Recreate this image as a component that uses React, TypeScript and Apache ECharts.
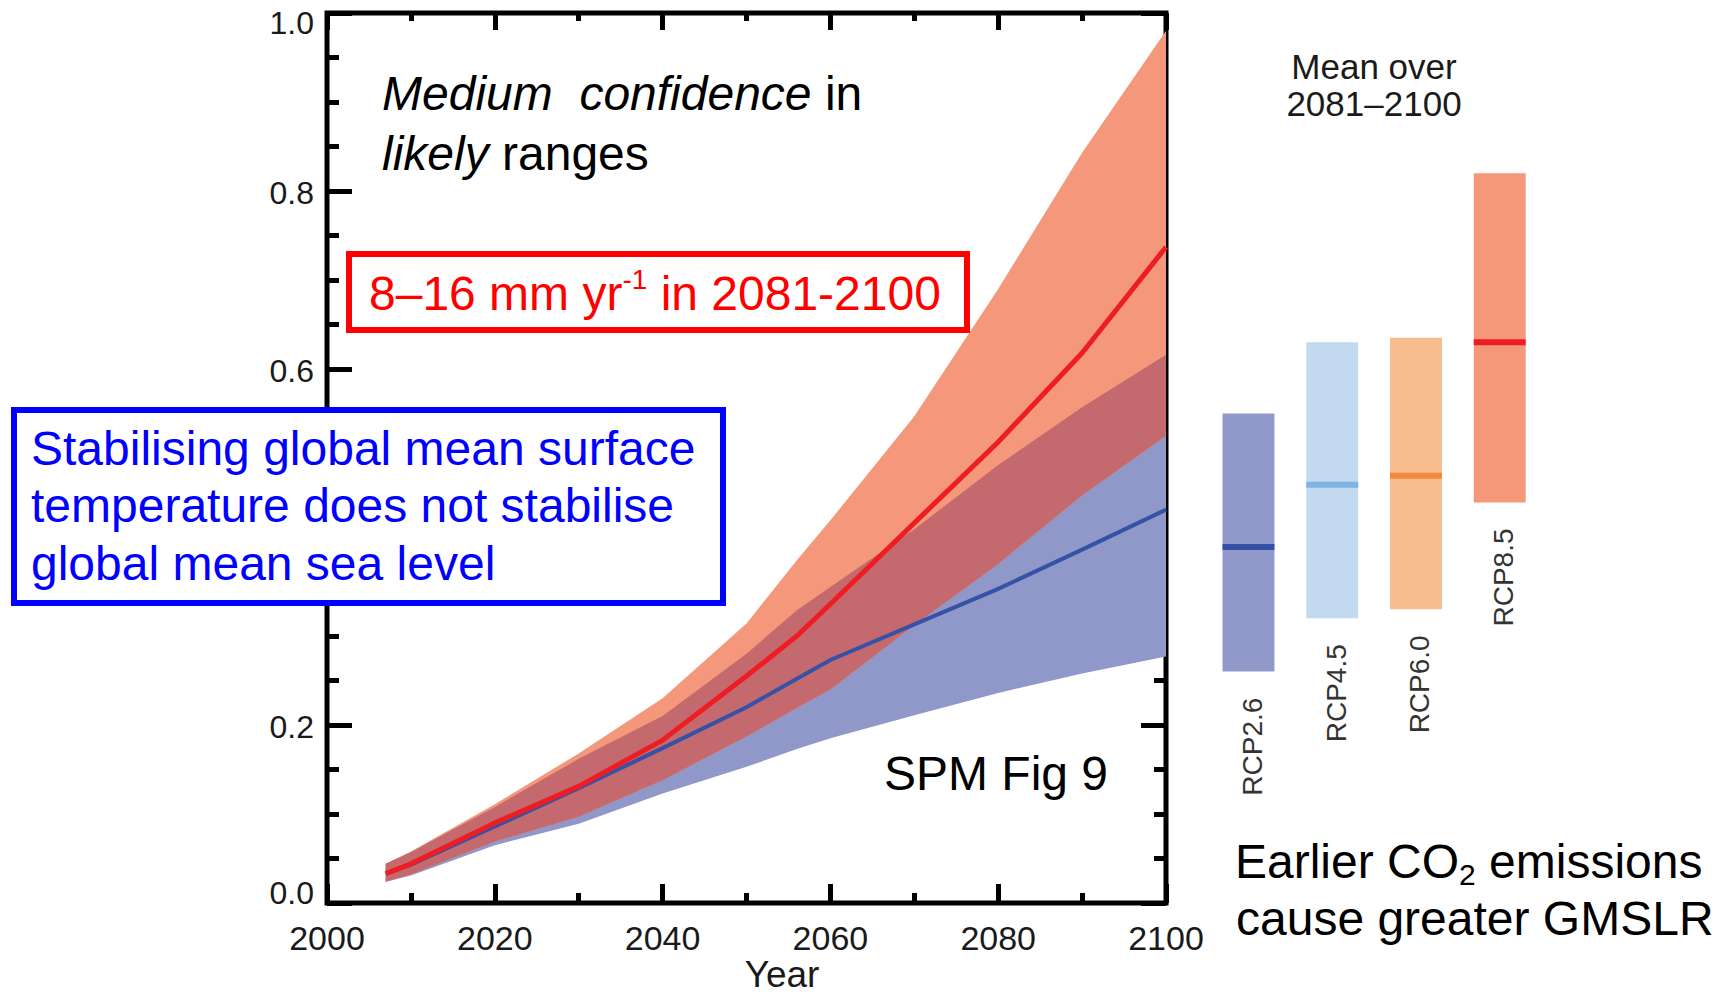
import React, { useEffect, useRef } from "react";
import * as echarts from "echarts";

// ---- Data ----
const YEARS = [2007, 2010, 2020, 2030, 2040, 2050, 2056, 2060, 2070, 2080, 2090, 2100];
const RCP26_LOW = [0.024, 0.031, 0.065, 0.089, 0.123, 0.153, 0.173, 0.185, 0.211, 0.236, 0.258, 0.277];
const RCP26_MED = [0.033, 0.043, 0.086, 0.129, 0.174, 0.220, 0.252, 0.273, 0.313, 0.353, 0.397, 0.442];
const RCP26_HIGH = [0.044, 0.057, 0.108, 0.162, 0.210, 0.280, 0.329, 0.355, 0.420, 0.492, 0.557, 0.616];
const RCP85_LOW = [0.024, 0.032, 0.069, 0.097, 0.138, 0.187, 0.219, 0.240, 0.312, 0.381, 0.458, 0.525];
const RCP85_MED = [0.033, 0.044, 0.090, 0.131, 0.183, 0.255, 0.300, 0.336, 0.427, 0.518, 0.618, 0.737];
const RCP85_HIGH = [0.044, 0.058, 0.111, 0.168, 0.230, 0.314, 0.385, 0.430, 0.547, 0.690, 0.843, 0.980];

const SCENARIOS = ["RCP2.6", "RCP4.5", "RCP6.0", "RCP8.5"];
const MEAN_LOW = [0.26, 0.32, 0.33, 0.45];
const MEAN_MED = [0.40, 0.47, 0.48, 0.63];
const MEAN_HIGH = [0.55, 0.63, 0.635, 0.82];

// tick label hidden behind the blue annotation box in the reference
const HIDDEN_Y_LABELS = [0.4];

// ---- Styles ----
const FONT = "'Liberation Sans', Arial, Helvetica, sans-serif";
const BAR_COLORS = ["#9199CB", "#C3D9F0", "#F9BC8D", "#F59879"];
const MED_COLORS = ["#3350A5", "#7DB5E4", "#F58A3C", "#ED1C24"];
const C_ORANGE = "#F5977A";
const C_BLUE = "#9097C9";
const C_ROSE = "#C46A6E";

export default function App() {
  const ref = useRef<HTMLDivElement>(null);

  useEffect(() => {
    document.body.style.margin = "0";
    document.body.style.overflow = "hidden";
    if (!ref.current) return;
    const chart = echarts.init(ref.current, undefined, { renderer: "svg" });

    const overlapLow = RCP26_LOW.map((v, i) => Math.max(v, RCP85_LOW[i]));
    const overlapHigh = RCP26_HIGH.map((v, i) => Math.min(v, RCP85_HIGH[i]));
    const BANDS = [
      { low: RCP26_LOW, high: RCP26_HIGH, color: C_BLUE },
      { low: RCP85_LOW, high: RCP85_HIGH, color: C_ORANGE },
      { low: overlapLow, high: overlapHigh, color: C_ROSE },
    ];

    const tickStyle = { color: "#000", width: 5 };
    const labelStyle = { fontSize: 34, color: "#1a1a1a", fontFamily: FONT };
    const yLab = { fontSize: 32, color: "#1a1a1a", fontFamily: FONT };

    const option: any = {
      animation: false,
      backgroundColor: "#ffffff",
      grid: [
        {
          left: 327,
          top: 13,
          width: 839,
          height: 890,
          show: true,
          borderColor: "#000",
          borderWidth: 5,
          backgroundColor: "transparent",
        },
        { left: 1206.6, top: 13, width: 335, height: 890 },
      ],
      xAxis: [
        {
          gridIndex: 0,
          type: "value",
          min: 2000,
          max: 2100,
          interval: 20,
          position: "bottom",
          axisLine: { show: false, onZero: false },
          axisTick: { show: true, inside: true, length: 19, lineStyle: tickStyle },
          minorTick: { show: true, splitNumber: 2, length: 10, lineStyle: tickStyle },
          splitLine: { show: false },
          minorSplitLine: { show: false },
          axisLabel: { ...labelStyle, margin: 18, formatter: (v: number) => String(v) },
        },
        {
          gridIndex: 0,
          type: "value",
          min: 2000,
          max: 2100,
          interval: 20,
          position: "top",
          axisLine: { show: false, onZero: false },
          axisTick: { show: true, inside: true, length: 17, lineStyle: tickStyle },
          minorTick: { show: true, splitNumber: 2, length: 8, lineStyle: tickStyle },
          splitLine: { show: false },
          minorSplitLine: { show: false },
          axisLabel: { show: false },
        },
        { gridIndex: 1, type: "category", data: SCENARIOS, show: false },
      ],
      yAxis: [
        {
          gridIndex: 0,
          type: "value",
          min: 0,
          max: 1,
          interval: 0.2,
          position: "left",
          axisLine: { show: false, onZero: false },
          axisTick: { show: true, inside: true, length: 25, lineStyle: tickStyle },
          minorTick: { show: true, splitNumber: 4, length: 12, lineStyle: tickStyle },
          splitLine: { show: false },
          minorSplitLine: { show: false },
          axisLabel: {
            ...yLab,
            margin: 13,
            formatter: (v: number) => {
              if (HIDDEN_Y_LABELS.some((h) => Math.abs(h - v) < 1e-6)) return "";
              const s = v.toFixed(1);
              if (v >= 1 - 1e-9) return "{mx|" + s + "}";
              if (v <= 1e-9) return "{mn|" + s + "}";
              return "{n|" + s + "}";
            },
            rich: {
              n: { ...yLab, padding: [4, 0, 0, 0] },
              mx: { ...yLab, padding: [20, 0, 0, 0] },
              mn: { ...yLab, padding: [0, 0, 20, 0] },
            },
          },
        },
        {
          gridIndex: 0,
          type: "value",
          min: 0,
          max: 1,
          interval: 0.2,
          position: "right",
          axisLine: { show: false, onZero: false },
          axisTick: { show: true, inside: true, length: 25, lineStyle: tickStyle },
          minorTick: { show: true, splitNumber: 4, length: 12, lineStyle: tickStyle },
          splitLine: { show: false },
          minorSplitLine: { show: false },
          axisLabel: { show: false },
        },
        { gridIndex: 1, type: "value", min: 0, max: 1, show: false },
      ],
      series: [
        {
          type: "custom",
          xAxisIndex: 0,
          yAxisIndex: 0,
          silent: true,
          z: 2,
          data: BANDS.map(() => [YEARS[0], 0]),
          renderItem: (params: any, api: any) => {
            const b = BANDS[params.dataIndex];
            const upper = YEARS.map((y, k) => api.coord([y, b.high[k]]));
            const lower = YEARS.map((y, k) => api.coord([y, b.low[k]])).reverse();
            return {
              type: "polygon",
              shape: { points: upper.concat(lower) },
              style: { fill: b.color, stroke: null },
            };
          },
        },
        {
          type: "line",
          name: "RCP2.6",
          xAxisIndex: 0,
          yAxisIndex: 0,
          data: YEARS.map((y, i) => [y, RCP26_MED[i]]),
          symbol: "none",
          smooth: false,
          lineStyle: { color: "#3552A6", width: 4 },
          z: 5,
        },
        {
          type: "line",
          name: "RCP8.5",
          xAxisIndex: 0,
          yAxisIndex: 0,
          data: YEARS.map((y, i) => [y, RCP85_MED[i]]),
          symbol: "none",
          smooth: false,
          lineStyle: { color: "#EE1D23", width: 5 },
          z: 6,
        },
        {
          type: "custom",
          xAxisIndex: 2,
          yAxisIndex: 2,
          data: SCENARIOS.map((s, i) => [i, MEAN_LOW[i], MEAN_MED[i], MEAN_HIGH[i]]),
          renderItem: (params: any, api: any) => {
            const i = api.value(0);
            const pLo = api.coord([i, api.value(1)]);
            const pMd = api.coord([i, api.value(2)]);
            const pHi = api.coord([i, api.value(3)]);
            const w = api.size([1, 0])[0] * 0.62;
            return {
              type: "group",
              children: [
                {
                  type: "rect",
                  shape: { x: pHi[0] - w / 2, y: pHi[1], width: w, height: pLo[1] - pHi[1] },
                  style: { fill: BAR_COLORS[i] },
                },
                {
                  type: "rect",
                  shape: { x: pHi[0] - w / 2, y: pMd[1] - 3, width: w, height: 6 },
                  style: { fill: MED_COLORS[i] },
                },
                {
                  type: "text",
                  x: pLo[0] + 4,
                  y: pLo[1] + 26,
                  rotation: Math.PI / 2,
                  style: {
                    text: SCENARIOS[i],
                    fontSize: 28,
                    fontFamily: FONT,
                    fill: "#333",
                    align: "right",
                    verticalAlign: "middle",
                  },
                },
              ],
            };
          },
        },
      ],
      graphic: [
        {
          type: "text",
          x: 382,
          y: 93,
          z: 50,
          style: {
            text: "{i|Medium\u00a0 confidence} {n|in}",
            fontSize: 48,
            fontFamily: FONT,
            fill: "#000",
            align: "left",
            verticalAlign: "middle",
            rich: {
              i: { fontStyle: "italic", fontSize: 48, fontFamily: FONT, fill: "#000" },
              n: { fontSize: 48, fontFamily: FONT, fill: "#000" },
            },
          },
        },
        {
          type: "text",
          x: 382,
          y: 153,
          z: 50,
          style: {
            text: "{i|likely} {n|ranges}",
            fontSize: 48,
            fontFamily: FONT,
            fill: "#000",
            align: "left",
            verticalAlign: "middle",
            rich: {
              i: { fontStyle: "italic", fontSize: 48, fontFamily: FONT, fill: "#000" },
              n: { fontSize: 48, fontFamily: FONT, fill: "#000" },
            },
          },
        },
        {
          type: "rect",
          z: 50,
          shape: { x: 349, y: 254, width: 618, height: 76 },
          style: { fill: "#ffffff", stroke: "#FF0000", lineWidth: 6 },
        },
        {
          type: "text",
          x: 369,
          y: 293.4,
          z: 51,
          style: {
            text: "{a|8\u201316 mm yr}{s|-1}{a| in 2081-2100}",
            fontSize: 48,
            fontFamily: FONT,
            fill: "#FF0000",
            align: "left",
            verticalAlign: "middle",
            rich: {
              a: { fontSize: 48, lineHeight: 56, fontFamily: FONT, fill: "#FF0000" },
              s: { fontSize: 28, lineHeight: 42, verticalAlign: "top", fontFamily: FONT, fill: "#FF0000" },
            },
          },
        },
        {
          type: "rect",
          z: 50,
          shape: { x: 14, y: 410, width: 709, height: 193 },
          style: { fill: "#ffffff", stroke: "#0000FF", lineWidth: 6 },
        },
        ...["Stabilising global mean surface", "temperature does not stabilise", "global mean sea level"].map(
          (t, k) => ({
            type: "text",
            x: 31,
            y: 448.4 + k * 57.5,
            z: 51,
            style: {
              text: t,
              fontSize: 48,
              fontFamily: FONT,
              fill: "#0000FF",
              align: "left",
              verticalAlign: "middle",
            },
          })
        ),
        {
          type: "text",
          x: 884,
          y: 773.4,
          z: 50,
          style: { text: "SPM Fig 9", fontSize: 48, fontFamily: FONT, fill: "#000", align: "left", verticalAlign: "middle" },
        },
        {
          type: "text",
          x: 782,
          y: 974,
          z: 50,
          style: { text: "Year", fontSize: 37, fontFamily: FONT, fill: "#1a1a1a", align: "center", verticalAlign: "middle" },
        },
        {
          type: "text",
          x: 1374,
          y: 66,
          z: 50,
          style: { text: "Mean over", fontSize: 35, fontFamily: FONT, fill: "#1a1a1a", align: "center", verticalAlign: "middle" },
        },
        {
          type: "text",
          x: 1374,
          y: 103,
          z: 50,
          style: { text: "2081\u20132100", fontSize: 35, fontFamily: FONT, fill: "#1a1a1a", align: "center", verticalAlign: "middle" },
        },
        {
          type: "text",
          x: 1235,
          y: 861.4,
          z: 50,
          style: {
            text: "{a|Earlier CO}{b|2}{a| emissions}",
            fontSize: 48,
            fontFamily: FONT,
            fill: "#000",
            align: "left",
            verticalAlign: "middle",
            rich: {
              a: { fontSize: 48, lineHeight: 56, fontFamily: FONT, fill: "#000" },
              b: { fontSize: 30, lineHeight: 22, verticalAlign: "bottom", fontFamily: FONT, fill: "#000" },
            },
          },
        },
        {
          type: "text",
          x: 1236,
          y: 918.4,
          z: 50,
          style: {
            text: "cause greater GMSLR",
            fontSize: 48,
            fontFamily: FONT,
            fill: "#000",
            align: "left",
            verticalAlign: "middle",
          },
        },
      ],
    };

    chart.setOption(option);
    return () => chart.dispose();
  }, []);

  return <div ref={ref} style={{ width: 1723, height: 995 }} />;
}
